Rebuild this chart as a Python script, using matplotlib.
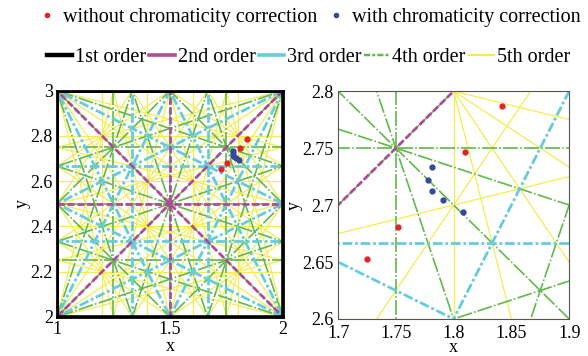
import numpy as np
import matplotlib
matplotlib.use("Agg")
import matplotlib.pyplot as plt
from matplotlib.lines import Line2D

plt.rcParams['font.family'] = ['Liberation Serif', 'DejaVu Serif']

# working points
x_without = [1.725, 1.752, 1.810, 1.842]
y_without = [2.653, 2.681, 2.747, 2.787]
x_with = [1.781, 1.778, 1.781, 1.791, 1.808]
y_with = [2.733, 2.722, 2.712, 2.704, 2.694]

orders = [1, 2, 3, 4, 5]
order_labels = ['1st order', '2nd order', '3rd order', '4th order', '5th order']
order_colors = ['black', '#b24a9c', '#66cbdd', '#62b84a', '#f3ec52']
order_widths = [2.6, 2.0, 2.0, 1.2, 0.9]
order_dashes = [None, (2.5, 1), (3.5, 1, 1, 1), (9, 1.3, 1, 1.3), None]

left_xticks = [1, 1.5, 2]
left_xlabels = ['1', '1.5', '2']
left_yticks = [2, 2.2, 2.4, 2.6, 2.8, 3]
left_ylabels = ['2', '2.2', '2.4', '2.6', '2.8', '3']
right_xticks = [1.7, 1.75, 1.8, 1.85, 1.9]
right_xlabels = ['1.7', '1.75', '1.8', '1.85', '1.9']
right_yticks = [2.6, 2.65, 2.7, 2.75, 2.8]
right_ylabels = ['2.6', '2.65', '2.7', '2.75', '2.8']


def resonance_lines(order, xlim, ylim):
    # all lines a*x + b*y = p with |a|+|b| = order crossing the box
    out = []
    for a in range(0, order + 1):
        b0 = order - a
        for b in sorted(set([b0, -b0])):
            if a == 0 and b < 0:
                continue
            corners = [a * x + b * y for x in xlim for y in ylim]
            for p in range(int(np.floor(min(corners))), int(np.ceil(max(corners))) + 1):
                out.append((a, b, p))
    return out


def draw_tune(ax, xlim, ylim):
    for i in reversed(range(len(orders))):
        for a, b, p in resonance_lines(orders[i], xlim, ylim):
            if b == 0:
                xs = [p / a, p / a]
                ys = [ylim[0] - 1, ylim[1] + 1]
            else:
                xs = [xlim[0] - 1, xlim[1] + 1]
                ys = [(p - a * x) / b for x in xs]
            ln, = ax.plot(xs, ys, color=order_colors[i], lw=order_widths[i])
            if order_dashes[i] is not None:
                ln.set_dashes(order_dashes[i])
    ax.plot(x_without, y_without, 'o', color='#e3222b', ms=3.5, zorder=5)
    ax.plot(x_with, y_with, 'o', color='#34499c', ms=3.5, zorder=5)
    ax.set_xlim(xlim)
    ax.set_ylim(ylim)
    ax.tick_params(length=0, labelsize=13)
    ax.tick_params(axis='x', pad=3)
    ax.tick_params(axis='y', pad=3)
    ax.set_xlabel('x', fontsize=13, labelpad=0)
    ax.set_ylabel('y', fontsize=13, labelpad=0)


fig = plt.figure(figsize=(5.88, 3.56), dpi=100)
ax1 = fig.add_axes([0.097, 0.110, 0.384, 0.635])
ax2 = fig.add_axes([0.575, 0.104, 0.393, 0.640])

draw_tune(ax1, (1, 2), (2, 3))
ax1.set_xticks(left_xticks)
ax1.set_xticklabels(left_xlabels)
ax1.set_yticks(left_yticks)
ax1.set_yticklabels(left_ylabels)
for s in ax1.spines.values():
    s.set_linewidth(2)

draw_tune(ax2, (1.7, 1.9), (2.6, 2.8))
ax2.set_xticks(right_xticks)
ax2.set_xticklabels(right_xlabels)
ax2.set_yticks(right_yticks)
ax2.set_yticklabels(right_ylabels)
ax2.tick_params(axis='x', pad=4)
ax2.xaxis.labelpad = -2
for s in ax2.spines.values():
    s.set_linewidth(0.8)
    s.set_color('#555555')

pt_handles = [Line2D([], [], ls='none', marker='o', ms=3, color='#e3222b'),
              Line2D([], [], ls='none', marker='o', ms=3, color='#34499c')]
fig.legend(pt_handles, ['without chromaticity correction', 'with chromaticity correction'],
           loc='center', bbox_to_anchor=(0.527, 0.952), ncol=2, frameon=False,
           fontsize=14.5, handlelength=0.8, handletextpad=0.4, columnspacing=0.5)

ln_handles = []
for i in range(len(orders)):
    h = Line2D([], [], color=order_colors[i], lw=order_widths[i] + 0.6)
    if i == 3:
        h.set_dashes((2.5, 0.8, 1.2, 0.8))
    ln_handles.append(h)
fig.legend(ln_handles, order_labels, loc='center', bbox_to_anchor=(0.525, 0.838),
           ncol=5, frameon=False, fontsize=14.5, handlelength=1.25,
           handletextpad=0.15, columnspacing=0.15)

fig.savefig('out.png', dpi=100)
